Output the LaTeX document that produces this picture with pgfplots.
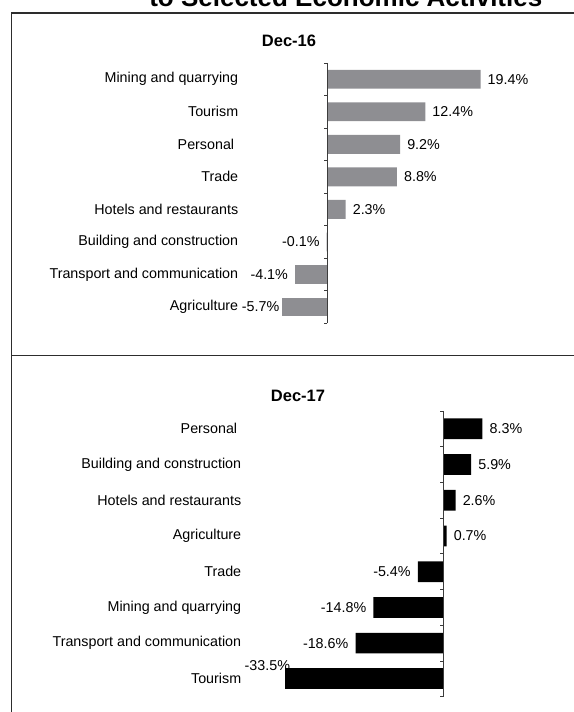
\documentclass[border=0pt]{standalone}
\usepackage{pgfplots}
\pgfplotsset{compat=1.18}
\usepackage{fontspec}
\setmainfont{Liberation Sans}
\definecolor{barg}{RGB}{142,142,146}
\definecolor{frame}{RGB}{45,45,45}
\definecolor{axline}{RGB}{60,60,60}
\pgfplotsset{
  mystyle/.style={
    xbar, bar shift=0pt, bar width=0.58,
    scale only axis, clip=false,
    ymin=-0.5, ymax=7.5, y dir=reverse,
    ytick={0,...,7},
    xtick=\empty,
    axis line style={draw=none},
    major tick length=0pt,
    tick style={draw=none},
    point meta=explicit symbolic,
    nodes near coords={\pgfplotspointmeta},
    every node near coord/.append style={font=\fontsize{14.3bp}{16bp}\selectfont, inner xsep=7bp, text=black},
    yticklabel style={font=\fontsize{14.3bp}{16bp}\selectfont, text=black},
  },
  pos/.style={every node near coord/.append style={anchor=west}},
  neg/.style={every node near coord/.append style={anchor=east}},
}
\begin{document}
\begin{tikzpicture}[x=1bp,y=1bp]
\useasboundingbox (0,0) rectangle (574,712);
\node[anchor=base, font=\bfseries\fontsize{26bp}{30bp}\selectfont, inner sep=0] at (345.8,705) {to Selected Economic Activities};
\draw[frame, line width=1.2bp] (11.7,0) -- (11.7,699) -- (574,699);
\draw[frame, line width=1.2bp] (11.7,356.7) -- (574,356.7);
\node[font=\bfseries\fontsize{16.5bp}{19bp}\selectfont] at (289,671) {Dec-16};
\node[font=\bfseries\fontsize{16.5bp}{19bp}\selectfont] at (298,316) {Dec-17};

\begin{axis}[mystyle, at={(241.7bp,388.7bp)}, anchor=south west,
  width=283bp, height=260.3bp, xmin=-10.87, xmax=25,
  yticklabels={Mining and quarrying, Tourism, {Personal\hspace*{4bp}}, Trade, Hotels and restaurants, Building and construction, Transport and communication, Agriculture}]
\addplot[fill=barg, draw=none, pos] coordinates {
  (19.4,0) [19.4\%]
  (12.4,1) [12.4\%]
  (9.2,2) [9.2\%]
  (8.8,3) [8.8\%]
  (2.3,4) [2.3\%]
};
\addplot[fill=barg, draw=none, neg] coordinates {
  (-0.1,5) [-0.1\%]
  (-4.1,6) [-4.1\%]
};
\addplot[fill=barg, draw=none, neg, every node near coord/.append style={xshift=4bp}] coordinates {
  (-5.7,7) [-5.7\%]
};
\draw[axline, line width=0.9bp] (axis cs:0,-0.5) -- (axis cs:0,7.5);
\pgfplotsinvokeforeach{-0.5,0.5,...,7.5}{\draw[axline, line width=0.9bp] (axis cs:0,#1) -- ++(-3bp,0bp);}
\end{axis}

\begin{axis}[mystyle, at={(244.7bp,15.3bp)}, anchor=south west,
  width=293bp, height=285.7bp, xmin=-42.08, xmax=20,
  yticklabels={{Personal\hspace*{4bp}}, Building and construction, Hotels and restaurants, Agriculture, Trade, Mining and quarrying, Transport and communication, Tourism}]
\addplot[fill=black, draw=none, pos] coordinates {
  (8.3,0) [8.3\%]
  (5.9,1) [5.9\%]
  (2.6,2) [2.6\%]
  (0.7,3) [0.7\%]
};
\addplot[fill=black, draw=none, neg] coordinates {
  (-5.4,4) [-5.4\%]
  (-14.8,5) [-14.8\%]
  (-18.6,6) [-18.6\%]
};
\addplot[fill=black, draw=none, neg, every node near coord/.append style={xshift=12bp, yshift=13bp}] coordinates {
  (-33.5,7) [-33.5\%]
};
\draw[axline, line width=0.9bp] (axis cs:0,-0.5) -- (axis cs:0,7.5);
\pgfplotsinvokeforeach{-0.5,0.5,...,7.5}{\draw[axline, line width=0.9bp] (axis cs:0,#1) -- ++(-3.5bp,0bp);}
\end{axis}
\end{tikzpicture}
\end{document}
